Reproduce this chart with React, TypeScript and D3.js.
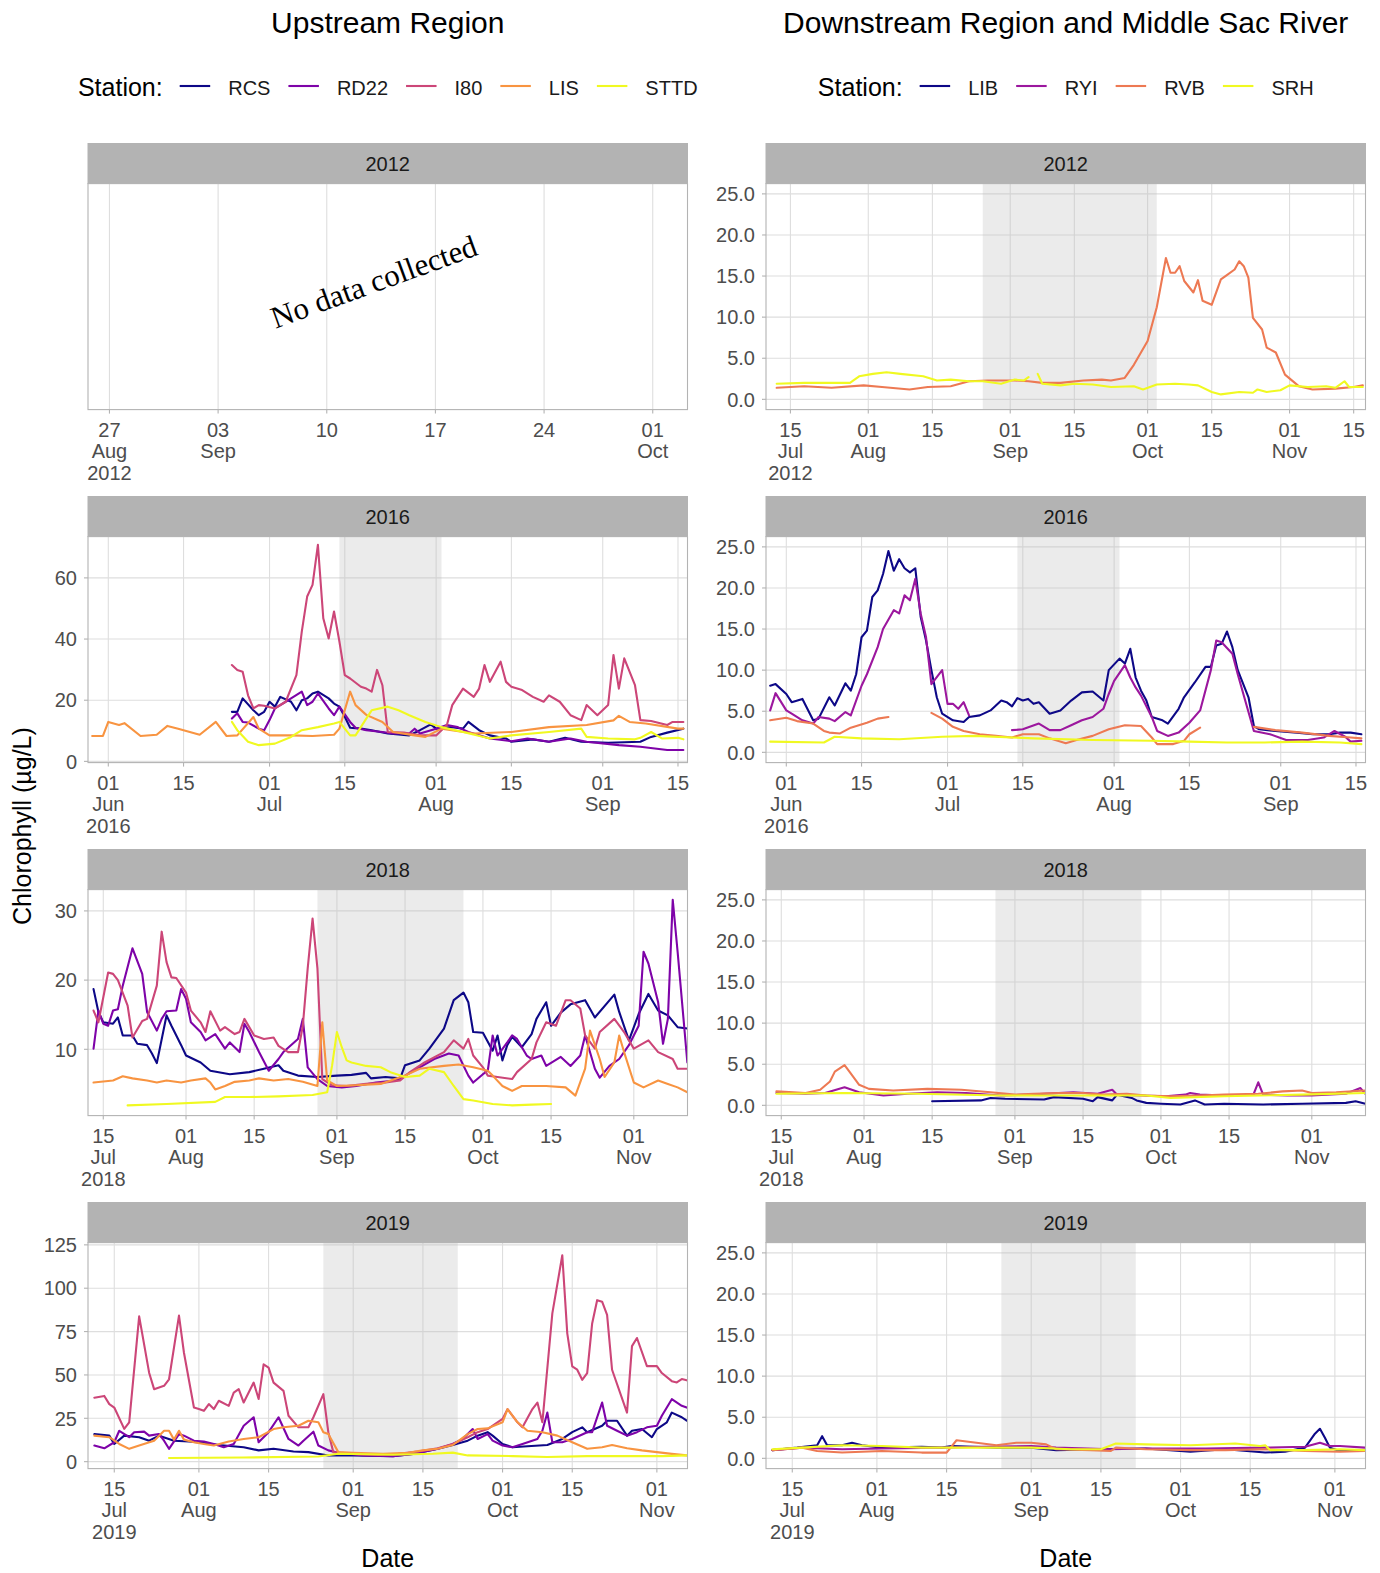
import React from 'react';
import * as d3 from 'd3';

type Obs = [string, number | null];

const FONT = '"Liberation Sans", Arial, Helvetica, sans-serif';
const SERIF = '"Liberation Serif", "Times New Roman", serif';

// ---- stations & palettes (plasma) ----
const UP_STATIONS = ['RCS', 'RD22', 'I80', 'LIS', 'STTD'];
const UP_COLORS = ['#0D0887', '#7E03A8', '#CC4678', '#F89441', '#F0F921'];
const DOWN_STATIONS = ['LIB', 'RYI', 'RVB', 'SRH'];
const DOWN_COLORS = ['#0D0887', '#9C179E', '#ED7953', '#F0F921'];

// ---- x axes: visible window, breaks and flow-pulse windows ----
const XDOM_UP2012 = ['2012-08-25T14:50:00Z', '2012-10-03T05:45:00Z'];
const XDOM_DN2012 = ['2012-07-09T16:00:00Z', '2012-11-17T14:00:00Z'];
const XDOM_2016 = ['2016-05-28T05:20:00Z', '2016-09-16T18:30:00Z'];
const XDOM_2018 = ['2018-07-11T20:40:00Z', '2018-11-12T00:45:00Z'];
const XDOM_2019 = ['2019-07-09T17:20:00Z', '2019-11-07T03:40:00Z'];

const TICKS_UP2012 = ['2012-08-27', '2012-09-03', '2012-09-10', '2012-09-17', '2012-09-24', '2012-10-01'];
const TICKS_DN2012 = ['2012-07-15', '2012-08-01', '2012-08-15', '2012-09-01', '2012-09-15', '2012-10-01', '2012-10-15', '2012-11-01', '2012-11-15'];
const TICKS_2016 = ['2016-06-01', '2016-06-15', '2016-07-01', '2016-07-15', '2016-08-01', '2016-08-15', '2016-09-01', '2016-09-15'];
const TICKS_2018 = ['2018-07-15', '2018-08-01', '2018-08-15', '2018-09-01', '2018-09-15', '2018-10-01', '2018-10-15', '2018-11-01'];
const TICKS_2019 = ['2019-07-15', '2019-08-01', '2019-08-15', '2019-09-01', '2019-09-15', '2019-10-01', '2019-10-15', '2019-11-01'];

const PULSE_2012 = ['2012-08-26', '2012-10-03'];
const PULSE_2016 = ['2016-07-14', '2016-08-02'];
const PULSE_2018 = ['2018-08-28', '2018-09-27'];
const PULSE_2019 = ['2019-08-26', '2019-09-22'];

// ---- y axes ----
const Y_UP2016 = [-0.4, 73.5];
const YT_UP2016 = [0, 20, 40, 60];
const Y_UP2018 = [0.42, 33.08];
const YT_UP2018 = [10, 20, 30];
const Y_UP2019 = [-4.0, 126.3];
const YT_UP2019 = [0, 25, 50, 75, 100, 125];
const Y_DOWN = [-1.25, 26.25];
const YT_DOWN = [0, 5, 10, 15, 20, 25];

// ---- chlorophyll (µg/L), upstream 2016 ----
const UP16_RCS: Obs[] = [
  ['06-24', 16.2], ['06-25', 16.2], ['06-26', 20.6], ['06-28', 16.7], ['06-29', 15.1], ['06-30', 16.2],
  ['07-01', 19.5], ['07-02', 17.9], ['07-03', 21.1], ['07-05', 19.5], ['07-06', 16.7], ['07-07', 20.0],
  ['07-08', 20.6], ['07-09', 22.2], ['07-10', 22.8], ['07-12', 20.6], ['07-13', 18.9], ['07-14', 17.9],
  ['07-15', 14.6], ['07-16', 11.0], ['07-18', 10.7], ['07-20', 10.2], ['07-23', 9.1], ['07-27', 8.5],
  ['07-29', 10.2], ['07-31', 12.1], ['08-01', 10.7], ['08-04', 11.2], ['08-06', 10.7], ['08-07', 12.9],
  ['08-09', 10.2], ['08-11', 8.5], ['08-14', 7.5], ['08-15', 6.4], ['08-19', 7.2], ['08-22', 6.4],
  ['08-25', 7.7], ['08-28', 6.4], ['09-02', 6.1], ['09-08', 6.4], ['09-10', 8.0], ['09-13', 9.4], ['09-16', 10.7],
];
const UP16_RD22: Obs[] = [
  ['06-24', 14.0], ['06-25', 15.7], ['06-26', 12.9], ['06-27', 12.7], ['06-29', 10.7], ['06-30', 10.2],
  ['07-01', 13.5], ['07-02', 17.3], ['07-04', 19.5], ['07-05', 20.6], ['07-07', 22.8], ['07-08', 18.4],
  ['07-09', 19.5], ['07-10', 22.2], ['07-12', 17.3], ['07-13', 15.1], ['07-14', 17.9], ['07-16', 12.9],
  ['07-17', 11.0], ['07-19', 10.2], ['07-22', 9.6], ['07-24', 9.1], ['07-27', 9.1], ['07-28', 10.7],
  ['07-29', 9.1], ['08-01', 10.7], ['08-03', 11.9], ['08-05', 11.2], ['08-07', 9.6], ['08-11', 7.5],
  ['08-15', 6.6], ['08-18', 7.5], ['08-22', 6.4], ['08-26', 7.5], ['08-29', 6.4], ['09-04', 5.3],
  ['09-08', 4.8], ['09-13', 3.7], ['09-16', 3.7],
];
const UP16_I80: Obs[] = [
  ['06-24', 31.5], ['06-25', 29.9], ['06-26', 29.3], ['06-27', 21.6], ['06-28', 17.3], ['06-29', 18.4],
  ['06-30', 18.2], ['07-02', 17.3], ['07-04', 19.5], ['07-06', 28.2], ['07-07', 42.4], ['07-08', 53.9],
  ['07-09', 57.7], ['07-10', 70.8], ['07-11', 46.8], ['07-12', 40.2], ['07-13', 49.0], ['07-14', 39.2],
  ['07-15', 28.2], ['07-16', 27.1], ['07-18', 24.4], ['07-19', 23.8], ['07-20', 22.8], ['07-21', 29.9],
  ['07-22', 24.9], ['07-23', 9.6], ['07-26', 9.4], ['07-29', 8.5], ['08-01', 8.5], ['08-03', 11.9],
  ['08-04', 18.4], ['08-06', 23.8], ['08-08', 21.1], ['08-09', 23.8], ['08-10', 31.5], ['08-11', 26.0],
  ['08-13', 32.6], ['08-14', 26.0], ['08-15', 24.4], ['08-17', 23.3], ['08-19', 21.1], ['08-21', 19.5],
  ['08-22', 21.6], ['08-24', 19.5], ['08-26', 15.1], ['08-28', 13.5], ['08-29', 18.4], ['08-31', 15.1],
  ['09-02', 18.4], ['09-03', 34.8], ['09-04', 23.8], ['09-05', 33.7], ['09-07', 24.9], ['09-08', 13.5],
  ['09-10', 13.2], ['09-13', 11.9], ['09-14', 12.9], ['09-16', 12.9],
];
const UP16_LIS: Obs[] = [
  ['05-29', 8.3], ['05-31', 8.3], ['06-01', 12.9], ['06-03', 11.9], ['06-04', 12.5], ['06-07', 8.3],
  ['06-10', 8.7], ['06-12', 11.6], ['06-14', 10.7], ['06-18', 8.7], ['06-21', 12.9], ['06-23', 8.3],
  ['06-25', 8.5], ['06-28', 14.5], ['06-29', 10.7], ['07-01', 8.5], ['07-05', 8.5], ['07-09', 8.3],
  ['07-13', 8.7], ['07-14', 10.7], ['07-16', 22.8], ['07-17', 18.4], ['07-19', 15.2], ['07-22', 12.9],
  ['07-24', 9.6], ['07-28', 8.5], ['07-30', 8.0], ['08-02', 10.7], ['08-08', 9.1], ['08-15', 9.6],
  ['08-22', 11.2], ['08-29', 11.9], ['09-03', 13.4], ['09-04', 14.9], ['09-06', 12.9], ['09-09', 12.4],
  ['09-15', 10.7], ['09-16', 10.7],
];
const UP16_STTD: Obs[] = [
  ['06-24', 12.9], ['06-25', 10.2], ['06-27', 6.4], ['06-29', 5.3], ['07-02', 5.8], ['07-05', 8.0],
  ['07-07', 10.2], ['07-10', 11.2], ['07-13', 12.4], ['07-14', 12.9], ['07-16', 8.5], ['07-17', 8.5],
  ['07-19', 14.0], ['07-20', 16.7], ['07-23', 17.9], ['07-25', 16.7], ['07-27', 15.1], ['07-30', 12.9],
  ['08-02', 11.2], ['08-06', 9.6], ['08-11', 7.5], ['08-15', 8.5], ['08-22', 9.6], ['08-28', 10.7],
  ['08-29', 8.0], ['09-02', 7.5], ['09-07', 7.2], ['09-08', 7.7], ['09-10', 9.6], ['09-12', 7.5],
  ['09-15', 7.7], ['09-16', 7.2],
];

// ---- upstream 2018 ----
const UP18_RCS: Obs[] = [
  ['07-13', 18.7], ['07-14', 15.4], ['07-15', 13.9], ['07-17', 13.7], ['07-18', 14.6], ['07-19', 12.0],
  ['07-21', 12.0], ['07-22', 10.8], ['07-24', 10.6], ['07-25', 9.4], ['07-26', 8.0], ['07-28', 14.9],
  ['07-29', 13.4], ['07-31', 10.6], ['08-01', 9.1], ['08-04', 8.1], ['08-06', 6.9], ['08-10', 6.4],
  ['08-14', 6.7], ['08-17', 7.2], ['08-20', 7.7], ['08-21', 6.9], ['08-24', 6.2], ['08-28', 6.0],
  ['09-01', 6.2], ['09-04', 6.3], ['09-07', 6.6], ['09-08', 5.8], ['09-11', 6.0], ['09-14', 5.8],
  ['09-15', 7.7], ['09-18', 8.4], ['09-20', 10.1], ['09-23', 13.0], ['09-25', 17.1], ['09-27', 18.2],
  ['09-28', 16.8], ['09-29', 12.5], ['10-01', 12.4], ['10-03', 9.8], ['10-04', 12.0], ['10-05', 8.4],
  ['10-06', 10.6], ['10-07', 11.8], ['10-09', 10.3], ['10-11', 12.2], ['10-12', 14.4], ['10-14', 16.8],
  ['10-15', 13.4], ['10-17', 15.3], ['10-19', 16.5], ['10-22', 17.1], ['10-24', 14.6], ['10-28', 17.9],
  ['10-29', 15.4], ['10-31', 11.3], ['11-02', 15.1], ['11-04', 18.0], ['11-06', 15.6], ['11-08', 14.9],
  ['11-10', 13.2], ['11-12', 13.0],
];
const UP18_RD22: Obs[] = [
  ['07-13', 10.1], ['07-14', 15.6], ['07-15', 13.7], ['07-16', 13.4], ['07-17', 15.6], ['07-18', 15.8],
  ['07-19', 19.2], ['07-21', 24.6], ['07-23', 20.9], ['07-24', 15.4], ['07-26', 12.7], ['07-27', 14.4],
  ['07-28', 15.5], ['07-30', 15.6], ['07-31', 18.7], ['08-01', 17.3], ['08-02', 13.9], ['08-04', 12.5],
  ['08-05', 11.3], ['08-07', 12.2], ['08-09', 10.1], ['08-10', 11.0], ['08-12', 9.6], ['08-13', 13.7],
  ['08-14', 12.5], ['08-16', 9.6], ['08-18', 6.9], ['08-20', 8.6], ['08-21', 9.6], ['08-24', 11.5],
  ['08-25', 14.4], ['08-26', 7.4], ['08-28', 5.7], ['08-30', 4.7], ['09-02', 4.5], ['09-05', 4.7],
  ['09-09', 5.2], ['09-13', 5.5], ['09-15', 6.2], ['09-18', 7.4], ['09-21', 8.6], ['09-24', 9.4],
  ['09-26', 9.1], ['09-28', 6.2], ['09-29', 5.2], ['10-01', 6.4], ['10-02', 6.9], ['10-03', 12.0],
  ['10-04', 9.1], ['10-06', 11.0], ['10-07', 12.0], ['10-08', 11.5], ['10-10', 9.1], ['10-11', 8.6],
  ['10-13', 9.1], ['10-14', 7.6], ['10-17', 8.9], ['10-19', 7.6], ['10-21', 9.1], ['10-22', 12.0],
  ['10-24', 7.2], ['10-25', 5.9], ['10-27', 7.6], ['10-29', 8.6], ['10-31', 10.6], ['11-02', 13.4],
  ['11-03', 24.1], ['11-04', 22.4], ['11-06', 16.8], ['11-07', 10.8], ['11-08', 14.4], ['11-09', 31.6],
  ['11-10', 24.1], ['11-12', 8.1],
];
const UP18_I80: Obs[] = [
  ['07-13', 15.6], ['07-14', 13.9], ['07-16', 21.1], ['07-17', 20.9], ['07-18', 20.0], ['07-20', 16.3],
  ['07-21', 11.7], ['07-23', 14.1], ['07-24', 14.4], ['07-26', 19.2], ['07-27', 27.0], ['07-28', 22.6],
  ['07-29', 20.4], ['07-30', 20.3], ['08-01', 18.2], ['08-02', 15.6], ['08-04', 13.9], ['08-05', 12.5],
  ['08-06', 15.5], ['08-08', 12.7], ['08-09', 13.2], ['08-11', 12.2], ['08-12', 12.5], ['08-13', 14.4],
  ['08-15', 12.0], ['08-17', 11.5], ['08-19', 11.7], ['08-20', 10.5], ['08-22', 9.6], ['08-24', 9.6],
  ['08-25', 13.4], ['08-26', 21.7], ['08-27', 28.9], ['08-28', 21.7], ['08-29', 5.7], ['08-31', 4.8],
  ['09-03', 4.7], ['09-07', 5.0], ['09-11', 5.2], ['09-14', 5.5], ['09-16', 6.7], ['09-19', 8.1],
  ['09-23', 9.6], ['09-25', 11.3], ['09-27', 10.1], ['09-28', 11.5], ['09-29', 9.1], ['10-01', 7.4],
  ['10-02', 6.2], ['10-04', 6.0], ['10-07', 5.7], ['10-08', 6.7], ['10-11', 8.6], ['10-12', 11.0],
  ['10-14', 13.9], ['10-16', 13.4], ['10-18', 17.1], ['10-19', 17.1], ['10-21', 15.9], ['10-22', 12.0],
  ['10-24', 10.1], ['10-25', 12.5], ['10-28', 14.4], ['10-30', 12.5], ['11-01', 10.1], ['11-04', 11.3],
  ['11-06', 9.6], ['11-09', 8.6], ['11-10', 7.2], ['11-12', 7.2],
];
const UP18_LIS: Obs[] = [
  ['07-13', 5.2], ['07-17', 5.5], ['07-19', 6.1], ['07-21', 5.8], ['07-24', 5.5], ['07-26', 5.2],
  ['07-28', 5.5], ['07-31', 5.2], ['08-02', 5.5], ['08-05', 5.8], ['08-06', 5.2], ['08-07', 4.2],
  ['08-09', 4.7], ['08-11', 5.3], ['08-14', 5.5], ['08-16', 5.8], ['08-19', 5.5], ['08-22', 5.7],
  ['08-25', 5.3], ['08-28', 4.7], ['08-29', 13.9], ['08-30', 5.5], ['09-01', 4.7], ['09-05', 4.8],
  ['09-10', 5.0], ['09-15', 6.2], ['09-18', 7.2], ['09-23', 7.6], ['09-26', 7.8], ['09-29', 7.4],
  ['10-02', 6.9], ['10-03', 6.2], ['10-05', 4.7], ['10-07', 4.0], ['10-09', 4.7], ['10-11', 4.7],
  ['10-14', 4.7], ['10-18', 4.5], ['10-20', 3.3], ['10-22', 7.2], ['10-23', 12.7], ['10-25', 8.6],
  ['10-26', 6.0], ['10-28', 8.1], ['10-29', 12.0], ['10-30', 9.6], ['11-01', 5.2], ['11-03', 4.5],
  ['11-06', 5.5], ['11-08', 5.0], ['11-10', 4.5], ['11-12', 3.8],
];
const UP18_STTD: Obs[] = [
  ['07-20', 1.9], ['07-28', 2.1], ['08-07', 2.4], ['08-09', 3.1], ['08-14', 3.1], ['08-20', 3.2],
  ['08-27', 3.4], ['08-30', 3.8], ['08-31', 7.6], ['09-01', 12.5], ['09-02', 10.3], ['09-03', 8.4],
  ['09-04', 8.1], ['09-07', 7.6], ['09-10', 7.4], ['09-12', 6.7], ['09-15', 6.0], ['09-18', 6.2],
  ['09-20', 7.2], ['09-23', 6.7], ['09-25', 4.7], ['09-27', 2.8], ['09-29', 2.6], ['10-03', 2.1],
  ['10-07', 1.9], ['10-11', 2.0], ['10-15', 2.1],
];

// ---- upstream 2019 ----
const UP19_RCS: Obs[] = [
  ['07-11', 15.9], ['07-14', 15.0], ['07-15', 10.2], ['07-17', 15.0], ['07-20', 14.1], ['07-22', 12.1],
  ['07-24', 15.0], ['07-27', 12.1], ['07-30', 11.6], ['08-02', 10.8], ['08-05', 9.6], ['08-10', 8.3],
  ['08-13', 6.5], ['08-16', 7.4], ['08-20', 5.9], ['08-23', 5.5], ['08-27', 3.6], ['09-01', 3.6],
  ['09-09', 3.2], ['09-13', 4.5], ['09-18', 7.4], ['09-21', 9.6], ['09-24', 12.1], ['09-26', 15.0],
  ['09-28', 17.0], ['09-29', 15.0], ['10-01', 10.2], ['10-03', 8.3], ['10-06', 8.9], ['10-10', 9.6],
  ['10-13', 13.1], ['10-15', 17.0], ['10-17', 19.8], ['10-18', 17.0], ['10-21', 20.7], ['10-22', 23.6],
  ['10-24', 23.6], ['10-26', 15.0], ['10-27', 17.8], ['10-29', 18.8], ['10-31', 14.1], ['11-01', 18.8],
  ['11-03', 22.7], ['11-04', 28.3], ['11-06', 25.6], ['11-07', 23.6],
];
const UP19_RD22: Obs[] = [
  ['07-11', 9.3], ['07-13', 7.7], ['07-15', 11.2], ['07-16', 17.8], ['07-18', 14.1], ['07-19', 17.0],
  ['07-21', 17.3], ['07-22', 15.0], ['07-24', 15.9], ['07-25', 12.1], ['07-26', 7.4], ['07-28', 15.9],
  ['07-29', 15.0], ['07-31', 12.1], ['08-02', 11.6], ['08-04', 10.2], ['08-06', 8.3], ['08-08', 10.2],
  ['08-10', 20.7], ['08-12', 25.6], ['08-13', 11.2], ['08-15', 17.0], ['08-17', 25.6], ['08-19', 13.1],
  ['08-21', 9.3], ['08-22', 12.1], ['08-24', 17.3], ['08-25', 9.3], ['08-27', 6.5], ['08-29', 5.1],
  ['09-03', 3.6], ['09-09', 3.2], ['09-13', 4.5], ['09-18', 7.4], ['09-21', 10.2], ['09-23', 13.1],
  ['09-25', 18.8], ['09-26', 13.1], ['09-28', 15.9], ['09-29', 12.1], ['10-01', 9.3], ['10-03', 8.3],
  ['10-05', 10.2], ['10-08', 13.1], ['10-09', 17.8], ['10-10', 28.3], ['10-11', 11.2], ['10-13', 11.2],
  ['10-15', 13.1], ['10-18', 17.0], ['10-19', 17.0], ['10-21', 34.1], ['10-22', 20.7], ['10-24', 17.8],
  ['10-26', 15.0], ['10-28', 17.0], ['10-30', 19.8], ['11-01', 20.7], ['11-02', 26.5], ['11-04', 36.0],
  ['11-06', 32.2], ['11-07', 31.2],
];
const UP19_I80: Obs[] = [
  ['07-11', 36.9], ['07-13', 37.9], ['07-14', 33.2], ['07-15', 31.2], ['07-17', 18.9], ['07-18', 22.7],
  ['07-20', 83.8], ['07-22', 51.3], ['07-23', 41.8], ['07-25', 43.7], ['07-26', 47.5], ['07-28', 84.2],
  ['07-29', 62.8], ['07-31', 31.2], ['08-01', 30.3], ['08-02', 29.3], ['08-03', 33.2], ['08-04', 30.3],
  ['08-05', 35.1], ['08-07', 32.2], ['08-08', 39.8], ['08-09', 41.8], ['08-10', 34.1], ['08-12', 45.6],
  ['08-13', 36.1], ['08-14', 56.1], ['08-15', 54.2], ['08-16', 45.6], ['08-18', 40.8], ['08-19', 26.5],
  ['08-21', 19.8], ['08-23', 19.8], ['08-24', 25.6], ['08-26', 38.9], ['08-27', 17.0], ['08-28', 5.5],
  ['09-01', 4.5], ['09-06', 3.9], ['09-10', 4.5], ['09-14', 5.9], ['09-18', 7.7], ['09-21', 10.2],
  ['09-24', 14.1], ['09-26', 17.0], ['09-28', 18.8], ['10-01', 24.6], ['10-02', 30.3], ['10-04', 22.7],
  ['10-05', 19.8], ['10-07', 30.3], ['10-08', 34.1], ['10-09', 22.7], ['10-11', 85.5], ['10-13', 119.0],
  ['10-14', 74.0], ['10-15', 54.9], ['10-16', 53.0], ['10-17', 47.2], ['10-18', 51.1], ['10-19', 79.7],
  ['10-20', 93.1], ['10-21', 92.2], ['10-22', 84.6], ['10-23', 53.0], ['10-26', 28.3], ['10-27', 66.6],
  ['10-28', 71.3], ['10-30', 55.1], ['11-01', 55.1], ['11-02', 51.1], ['11-04', 46.4], ['11-05', 45.7],
  ['11-06', 47.6], ['11-07', 46.9],
];
const UP19_LIS: Obs[] = [
  ['07-11', 15.0], ['07-14', 14.1], ['07-16', 10.2], ['07-18', 7.4], ['07-20', 9.3], ['07-23', 12.1],
  ['07-25', 17.8], ['07-26', 17.8], ['07-27', 12.7], ['07-28', 17.8], ['07-29', 12.7], ['07-31', 11.2],
  ['08-02', 10.2], ['08-04', 9.3], ['08-07', 11.6], ['08-10', 13.1], ['08-13', 14.1], ['08-16', 18.8],
  ['08-18', 19.8], ['08-21', 20.7], ['08-23', 23.6], ['08-25', 22.7], ['08-26', 17.0], ['08-27', 15.9],
  ['08-29', 5.5], ['09-01', 5.1], ['09-07', 4.5], ['09-12', 5.1], ['09-15', 6.5], ['09-18', 7.4],
  ['09-21', 9.6], ['09-24', 15.9], ['09-26', 18.8], ['09-28', 19.2], ['10-01', 22.7], ['10-02', 30.3],
  ['10-04', 22.7], ['10-06', 17.8], ['10-09', 17.0], ['10-12', 15.0], ['10-15', 11.2], ['10-18', 7.4],
  ['10-21', 8.3], ['10-23', 9.6], ['10-26', 7.7], ['10-29', 6.5], ['11-01', 5.5], ['11-04', 4.5],
  ['11-07', 3.6],
];
const UP19_STTD: Obs[] = [
  ['07-26', 2.1], ['08-10', 2.4], ['08-25', 3.0], ['08-29', 4.6], ['09-09', 4.0], ['09-17', 4.6],
  ['09-21', 5.2], ['09-24', 3.6], ['10-03', 3.2], ['10-10', 2.7], ['10-18', 3.2], ['10-26', 3.2],
  ['11-02', 3.2], ['11-07', 3.6],
];

// ---- downstream 2012 ----
const DN12_RVB: Obs[] = [
  ['07-12', 1.4], ['07-18', 1.6], ['07-24', 1.4], ['07-31', 1.7], ['08-04', 1.5], ['08-10', 1.2],
  ['08-14', 1.5], ['08-19', 1.6], ['08-23', 2.2], ['08-27', 2.3], ['09-02', 2.3], ['09-05', 2.2],
  ['09-08', 2.0], ['09-12', 2.0], ['09-17', 2.3], ['09-21', 2.4], ['09-23', 2.3], ['09-26', 2.6],
  ['09-28', 4.2], ['10-01', 7.1], ['10-03', 11.2], ['10-05', 17.2], ['10-06', 15.4], ['10-07', 15.4],
  ['10-08', 16.2], ['10-09', 14.4], ['10-11', 13.0], ['10-12', 14.5], ['10-13', 12.0], ['10-15', 11.5],
  ['10-17', 14.6], ['10-18', 15.0], ['10-20', 15.8], ['10-21', 16.8], ['10-22', 16.2], ['10-23', 14.8],
  ['10-24', 9.9], ['10-26', 8.5], ['10-27', 6.3], ['10-29', 5.7], ['10-31', 3.0], ['11-03', 1.6],
  ['11-06', 1.2], ['11-11', 1.3], ['11-15', 1.5], ['11-17', 1.7],
];
const DN12_SRH: Obs[] = [
  ['07-12', 1.9], ['07-18', 2.0], ['07-28', 2.0], ['07-30', 2.8], ['08-02', 3.1], ['08-05', 3.3],
  ['08-08', 3.1], ['08-13', 2.8], ['08-16', 2.3], ['08-19', 2.4], ['08-23', 2.2], ['08-26', 2.2],
  ['08-30', 1.9], ['09-02', 2.4], ['09-04', 2.3], ['09-05', 2.7], ['09-06', null], ['09-07', 3.1],
  ['09-08', 1.9], ['09-12', 1.7], ['09-15', 1.9], ['09-19', 1.8], ['09-23', 1.5], ['09-28', 1.6],
  ['09-30', 1.2], ['10-03', 1.8], ['10-07', 1.9], ['10-10', 1.8], ['10-12', 1.7], ['10-15', 0.9],
  ['10-17', 0.6], ['10-21', 0.9], ['10-24', 0.8], ['10-25', 1.2], ['10-27', 0.9], ['10-30', 1.1],
  ['11-01', 1.7], ['11-05', 1.5], ['11-09', 1.6], ['11-11', 1.4], ['11-13', 2.2], ['11-14', 1.5],
  ['11-17', 1.5],
];

// ---- downstream 2016 ----
const DN16_LIB: Obs[] = [
  ['05-29', 8.1], ['05-30', 8.3], ['06-01', 7.1], ['06-02', 6.1], ['06-04', 6.5], ['06-06', 3.9],
  ['06-07', 4.1], ['06-09', 6.7], ['06-10', 5.7], ['06-12', 8.4], ['06-13', 7.5], ['06-14', 9.5],
  ['06-15', 14.0], ['06-16', 14.8], ['06-17', 18.9], ['06-18', 19.7], ['06-19', 21.7], ['06-20', 24.5],
  ['06-21', 22.1], ['06-22', 23.5], ['06-23', 22.4], ['06-24', 21.9], ['06-25', 22.4], ['06-26', 16.5],
  ['06-27', 13.6], ['06-28', 10.0], ['06-29', 6.7], ['06-30', 4.7], ['07-02', 3.9], ['07-04', 3.7],
  ['07-05', 4.3], ['07-07', 4.5], ['07-09', 5.1], ['07-11', 6.3], ['07-12', 6.1], ['07-13', 5.6],
  ['07-14', 6.6], ['07-15', 6.3], ['07-16', 6.5], ['07-17', 5.9], ['07-18', 6.1], ['07-20', 4.7],
  ['07-22', 5.1], ['07-24', 6.3], ['07-26', 7.3], ['07-28', 7.4], ['07-30', 6.3], ['07-31', 10.0],
  ['08-02', 11.4], ['08-03', 10.8], ['08-04', 12.6], ['08-05', 9.1], ['08-06', 7.5], ['08-07', 6.3],
  ['08-08', 4.3], ['08-10', 3.9], ['08-11', 3.5], ['08-13', 5.3], ['08-14', 6.7], ['08-16', 8.5],
  ['08-18', 10.4], ['08-19', 10.4], ['08-20', 13.0], ['08-21', 13.2], ['08-22', 14.7], ['08-23', 12.8],
  ['08-24', 10.0], ['08-26', 6.7], ['08-27', 3.2], ['08-28', 2.8], ['08-31', 2.6], ['09-04', 2.4],
  ['09-07', 2.2], ['09-10', 2.2], ['09-12', 2.4], ['09-14', 2.4], ['09-16', 2.2],
];
const DN16_RYI: Obs[] = [
  ['05-29', 5.1], ['05-30', 7.2], ['06-01', 5.1], ['06-02', 4.7], ['06-04', 3.9], ['06-06', 3.5],
  ['06-07', 4.3], ['06-09', 4.1], ['06-10', 3.8], ['06-12', 4.9], ['06-13', 4.5], ['06-15', 8.1],
  ['06-16', 9.5], ['06-18', 12.8], ['06-19', 15.0], ['06-21', 17.3], ['06-22', 16.9], ['06-23', 19.1],
  ['06-24', 18.5], ['06-25', 21.1], ['06-26', 16.9], ['06-27', 14.0], ['06-28', 8.3], ['06-30', 10.0],
  ['07-01', 5.9], ['07-02', 5.9], ['07-03', 5.3], ['07-04', 6.1], ['07-05', 4.5], ['07-09', null],
  ['07-13', 2.7], ['07-15', 2.8], ['07-18', 3.5], ['07-20', 2.7], ['07-22', 2.7], ['07-24', 3.3],
  ['07-26', 3.9], ['07-28', 4.3], ['07-30', 5.3], ['07-31', 7.1], ['08-01', 8.7], ['08-03', 10.6],
  ['08-04', 9.1], ['08-05', 7.9], ['08-06', 6.9], ['08-08', 4.3], ['08-09', 2.6], ['08-11', 2.0],
  ['08-13', 2.4], ['08-15', 3.6], ['08-17', 5.1], ['08-19', 10.0], ['08-20', 13.6], ['08-21', 13.4],
  ['08-23', 12.0], ['08-24', 9.5], ['08-27', 2.6], ['08-30', 2.2], ['09-02', 1.5], ['09-06', 1.5],
  ['09-09', 1.8], ['09-11', 2.6], ['09-13', 1.9], ['09-14', 1.3], ['09-16', 1.4],
];
const DN16_RVB: Obs[] = [
  ['05-29', 3.9], ['06-01', 4.2], ['06-03', 3.8], ['06-06', 3.5], ['06-08', 2.6], ['06-09', 2.4],
  ['06-11', 2.3], ['06-13', 3.0], ['06-16', 3.6], ['06-18', 4.1], ['06-20', 4.3], ['06-24', null],
  ['06-28', 4.8], ['06-30', 4.1], ['07-02', 3.1], ['07-04', 2.6], ['07-07', 2.2], ['07-10', 2.0],
  ['07-13', 1.8], ['07-15', 2.2], ['07-18', 2.2], ['07-20', 1.7], ['07-23', 1.1], ['07-25', 1.5],
  ['07-28', 2.0], ['07-31', 2.8], ['08-03', 3.3], ['08-06', 3.2], ['08-08', 1.8], ['08-09', 1.0],
  ['08-12', 1.0], ['08-14', 1.4], ['08-15', 2.2], ['08-17', 3.0], ['08-22', null], ['08-27', 3.1],
  ['08-31', 2.7], ['09-05', 2.4], ['09-10', 2.0], ['09-14', 1.8], ['09-16', 1.7],
];
const DN16_SRH: Obs[] = [
  ['05-29', 1.3], ['06-08', 1.2], ['06-10', 1.9], ['06-15', 1.7], ['06-22', 1.6], ['06-30', 1.9],
  ['07-06', 2.0], ['07-17', 1.7], ['07-28', 1.5], ['08-08', 1.4], ['08-15', 1.3], ['08-22', 1.2],
  ['08-29', 1.2], ['09-05', 1.3], ['09-12', 1.2], ['09-16', 1.0],
];

// ---- downstream 2018 ----
const DN18_LIB: Obs[] = [
  ['08-15', 0.5], ['08-25', 0.6], ['08-27', 0.9], ['08-30', 0.8], ['09-07', 0.7], ['09-09', 1.0],
  ['09-15', 0.8], ['09-17', 0.5], ['09-18', 1.0], ['09-21', 0.6], ['09-22', 1.3], ['09-25', 0.9],
  ['09-26', 0.6], ['09-28', 0.3], ['10-01', 0.2], ['10-05', 0.1], ['10-08', 0.6], ['10-10', 0.1],
  ['10-14', 0.2], ['10-22', 0.1], ['10-30', 0.2], ['11-08', 0.3], ['11-10', 0.5], ['11-12', 0.2],
];
const DN18_RYI: Obs[] = [
  ['07-14', 1.5], ['07-20', 1.4], ['07-24', 1.5], ['07-28', 2.2], ['07-31', 1.6], ['08-05', 1.2],
  ['08-10', 1.4], ['08-16', 1.6], ['08-22', 1.5], ['08-29', 1.2], ['09-04', 1.3], ['09-10', 1.5],
  ['09-13', 1.6], ['09-18', 1.4], ['09-21', 1.9], ['09-22', 1.3], ['09-27', 1.2], ['10-02', 1.1],
  ['10-06', 1.3], ['10-07', 1.5], ['10-09', 1.3], ['10-14', 1.2], ['10-20', 1.3], ['10-21', 2.8],
  ['10-22', 1.3], ['10-27', 1.2], ['11-01', 1.2], ['11-08', 1.4], ['11-11', 2.1], ['11-12', 1.4],
];
const DN18_RVB: Obs[] = [
  ['07-14', 1.7], ['07-20', 1.5], ['07-23', 1.9], ['07-25', 2.9], ['07-26', 4.1], ['07-28', 4.9],
  ['07-29', 4.1], ['07-31', 2.5], ['08-02', 2.0], ['08-07', 1.8], ['08-14', 2.0], ['08-21', 1.9],
  ['08-27', 1.6], ['09-01', 1.3], ['09-05', 1.4], ['09-10', 1.5], ['09-15', 1.5], ['09-19', 1.3],
  ['09-24', 1.4], ['09-28', 1.2], ['10-03', 1.1], ['10-09', 1.2], ['10-14', 1.3], ['10-21', 1.4],
  ['10-26', 1.7], ['10-30', 1.8], ['11-01', 1.5], ['11-06', 1.6], ['11-12', 1.8],
];
const DN18_SRH: Obs[] = [
  ['07-14', 1.4], ['07-28', 1.5], ['08-12', 1.4], ['08-29', 1.2], ['09-13', 1.2], ['09-28', 1.2],
  ['10-03', 0.9], ['10-14', 1.1], ['10-30', 1.3], ['11-12', 1.5],
];

// ---- downstream 2019 ----
const DN19_LIB: Obs[] = [
  ['07-11', 1.0], ['07-16', 1.3], ['07-20', 1.6], ['07-21', 2.7], ['07-22', 1.6], ['07-25', 1.6],
  ['07-27', 1.9], ['07-29', 1.6], ['08-02', 1.3], ['08-10', 1.4], ['08-14', 1.3], ['08-16', 1.5],
  ['08-25', 1.3], ['09-01', 1.3], ['09-06', 1.0], ['09-15', 1.1], ['09-24', 1.2], ['10-03', 0.8],
  ['10-10', 1.1], ['10-18', 0.7], ['10-22', 0.8], ['10-26', 1.3], ['10-28', 3.0], ['10-29', 3.6],
  ['10-30', 2.5], ['10-31', 1.3], ['11-02', 0.9], ['11-07', 0.9],
];
const DN19_RYI: Obs[] = [
  ['07-11', 1.0], ['07-17', 1.3], ['07-25', 1.1], ['08-02', 1.2], ['08-14', 1.3], ['08-22', 1.4],
  ['09-01', 1.5], ['09-06', 1.3], ['09-17', 1.1], ['09-24', 1.2], ['10-06', 1.2], ['10-18', 1.3],
  ['10-26', 1.4], ['10-29', 1.9], ['10-31', 1.5], ['11-02', 1.5], ['11-07', 1.3],
];
const DN19_RVB: Obs[] = [
  ['07-11', 1.0], ['07-17', 1.3], ['07-20', 0.9], ['07-25', 0.7], ['08-02', 0.9], ['08-10', 0.7],
  ['08-15', 0.7], ['08-17', 2.2], ['08-21', 1.9], ['08-25', 1.6], ['08-29', 1.9], ['09-01', 1.9],
  ['09-04', 1.7], ['09-06', 1.1], ['09-13', 1.0], ['09-17', 0.9], ['09-18', 1.3], ['09-24', 1.1],
  ['10-03', 1.0], ['10-10', 1.0], ['10-18', 1.1], ['10-26', 0.9], ['11-02', 0.8], ['11-07', 0.9],
];
const DN19_SRH: Obs[] = [
  ['07-11', 1.1], ['07-17', 1.3], ['07-25', 1.6], ['08-02', 1.5], ['08-10', 1.3], ['08-25', 1.3],
  ['09-01', 1.3], ['09-09', 1.1], ['09-15', 1.1], ['09-18', 1.8], ['09-24', 1.7], ['10-03', 1.6],
  ['10-12', 1.8], ['10-17', 1.5], ['10-18', 1.6], ['10-19', 1.0], ['10-26', 1.0], ['11-02', 1.1],
  ['11-07', 1.0],
];

// ---- layout ----
const W = 1380;
const H = 1573;
const COL_X = [88, 766];
const PANEL_W = 599.5;
const ROW_Y0 = 143.5;
const ROW_STEP = 353.0;
const STRIP_H = 40.1;
const PANEL_H = 226;
const LINE_W = 2.1;

interface PanelCfg {
  col: number;
  row: number;
  year: string;
  xDomain: string[];
  ticks: string[];
  pulse: string[] | null;
  yDomain: number[] | null;
  yTicks: number[];
  yFmt: string;
  series: Obs[][];
  colors: string[];
  note?: string;
}

const PANELS: PanelCfg[] = [
  { col: 0, row: 0, year: '2012', xDomain: XDOM_UP2012, ticks: TICKS_UP2012, pulse: null, yDomain: null, yTicks: [], yFmt: 'd', series: [], colors: UP_COLORS, note: 'No data collected' },
  { col: 0, row: 1, year: '2016', xDomain: XDOM_2016, ticks: TICKS_2016, pulse: PULSE_2016, yDomain: Y_UP2016, yTicks: YT_UP2016, yFmt: 'd', series: [UP16_RCS, UP16_RD22, UP16_I80, UP16_LIS, UP16_STTD], colors: UP_COLORS },
  { col: 0, row: 2, year: '2018', xDomain: XDOM_2018, ticks: TICKS_2018, pulse: PULSE_2018, yDomain: Y_UP2018, yTicks: YT_UP2018, yFmt: 'd', series: [UP18_RCS, UP18_RD22, UP18_I80, UP18_LIS, UP18_STTD], colors: UP_COLORS },
  { col: 0, row: 3, year: '2019', xDomain: XDOM_2019, ticks: TICKS_2019, pulse: PULSE_2019, yDomain: Y_UP2019, yTicks: YT_UP2019, yFmt: 'd', series: [UP19_RCS, UP19_RD22, UP19_I80, UP19_LIS, UP19_STTD], colors: UP_COLORS },
  { col: 1, row: 0, year: '2012', xDomain: XDOM_DN2012, ticks: TICKS_DN2012, pulse: PULSE_2012, yDomain: Y_DOWN, yTicks: YT_DOWN, yFmt: '.1f', series: [[], [], DN12_RVB, DN12_SRH], colors: DOWN_COLORS },
  { col: 1, row: 1, year: '2016', xDomain: XDOM_2016, ticks: TICKS_2016, pulse: PULSE_2016, yDomain: Y_DOWN, yTicks: YT_DOWN, yFmt: '.1f', series: [DN16_LIB, DN16_RYI, DN16_RVB, DN16_SRH], colors: DOWN_COLORS },
  { col: 1, row: 2, year: '2018', xDomain: XDOM_2018, ticks: TICKS_2018, pulse: PULSE_2018, yDomain: Y_DOWN, yTicks: YT_DOWN, yFmt: '.1f', series: [DN18_LIB, DN18_RYI, DN18_RVB, DN18_SRH], colors: DOWN_COLORS },
  { col: 1, row: 3, year: '2019', xDomain: XDOM_2019, ticks: TICKS_2019, pulse: PULSE_2019, yDomain: Y_DOWN, yTicks: YT_DOWN, yFmt: '.1f', series: [DN19_LIB, DN19_RYI, DN19_RVB, DN19_SRH], colors: DOWN_COLORS },
];

const GRID = '#DEDEDE';
const BORDER = '#B3B3B3';
const AXIS_TEXT = '#4D4D4D';

const utc = (s: string) => new Date(s.length === 10 ? `${s}T00:00:00Z` : s);

// day / month / year stacked labels, repeating the month or year only when it changes
function shortDateLabels(ticks: Date[]): string[][] {
  const fd = d3.utcFormat('%d');
  const fb = d3.utcFormat('%b');
  const fy = d3.utcFormat('%Y');
  return ticks.map((t, i) => {
    const prev = i > 0 ? ticks[i - 1] : null;
    const lines = [fd(t)];
    if (!prev || prev.getUTCMonth() !== t.getUTCMonth() || prev.getUTCFullYear() !== t.getUTCFullYear()) lines.push(fb(t));
    if (!prev || prev.getUTCFullYear() !== t.getUTCFullYear()) lines.push(fy(t));
    return lines;
  });
}

let measureCtx: CanvasRenderingContext2D | null = null;
function textWidth(s: string, size: number): number {
  if (!measureCtx) measureCtx = document.createElement('canvas').getContext('2d');
  if (!measureCtx) return s.length * size * 0.55;
  measureCtx.font = `${size}px "Liberation Sans", Arial, sans-serif`;
  return measureCtx.measureText(s).width;
}

function Panel({ cfg, idx }: { cfg: PanelCfg; idx: number }) {
  const x0 = COL_X[cfg.col];
  const stripTop = ROW_Y0 + ROW_STEP * cfg.row;
  const top = stripTop + STRIP_H;
  const bottom = top + PANEL_H;
  const x = d3.scaleUtc().domain(cfg.xDomain.map(utc)).range([x0, x0 + PANEL_W]);
  const y = cfg.yDomain ? d3.scaleLinear().domain(cfg.yDomain).range([bottom, top]) : null;
  const tickDates = cfg.ticks.map(utc);
  const tickLabels = shortDateLabels(tickDates);
  const fmt = d3.format(cfg.yFmt);
  const clipId = `clip-${idx}`;

  const line = y
    ? d3
        .line<[Date, number | null]>()
        .defined((d) => d[1] !== null)
        .x((d) => x(d[0]))
        .y((d) => y(d[1] as number))
    : null;

  return (
    <g>
      <defs>
        <clipPath id={clipId}>
          <rect x={x0} y={top} width={PANEL_W} height={PANEL_H} />
        </clipPath>
      </defs>
      {/* strip */}
      <rect x={x0} y={stripTop} width={PANEL_W} height={STRIP_H} fill="#B3B3B3" stroke="#B3B3B3" strokeWidth={1} />
      <text x={x0 + PANEL_W / 2} y={stripTop + STRIP_H / 2 + 7} textAnchor="middle" fontSize={20} fill="#1A1A1A">
        {cfg.year}
      </text>
      {/* panel background */}
      <rect x={x0} y={top} width={PANEL_W} height={PANEL_H} fill="#fff" />
      {/* grid */}
      {y &&
        cfg.yTicks.map((t) => (
          <line key={`h${t}`} x1={x0} x2={x0 + PANEL_W} y1={y(t)} y2={y(t)} stroke={GRID} strokeWidth={1.1} />
        ))}
      {tickDates.map((t, i) => (
        <line key={`v${i}`} x1={x(t)} x2={x(t)} y1={top} y2={bottom} stroke={GRID} strokeWidth={1.1} />
      ))}
      {/* flow pulse window */}
      {cfg.pulse && (
        <rect
          x={x(utc(cfg.pulse[0]))}
          y={top}
          width={x(utc(cfg.pulse[1])) - x(utc(cfg.pulse[0]))}
          height={PANEL_H}
          fill="#BEBEBE"
          fillOpacity={0.3}
          clipPath={`url(#${clipId})`}
        />
      )}
      {/* series */}
      <g clipPath={`url(#${clipId})`}>
        {line &&
          cfg.series.map((s, i) => {
            if (!s.length) return null;
            const pts: [Date, number | null][] = s.map(([md, v]) => [utc(`${cfg.year}-${md}`), v]);
            return (
              <path
                key={i}
                d={line(pts) || ''}
                fill="none"
                stroke={cfg.colors[i]}
                strokeWidth={LINE_W}
                strokeLinejoin="round"
                strokeLinecap="round"
              />
            );
          })}
      </g>
      {cfg.note && (
        <text
          transform={`translate(${x0 + 289.5},${top + 108}) rotate(-20)`}
          textAnchor="middle"
          fontFamily={SERIF}
          fontSize={31}
          fill="#000"
        >
          {cfg.note}
        </text>
      )}
      {/* border */}
      <rect x={x0} y={top} width={PANEL_W} height={PANEL_H} fill="none" stroke={BORDER} strokeWidth={1.1} />
      {/* y axis */}
      {y &&
        cfg.yTicks.map((t) => (
          <g key={`yt${t}`}>
            <line x1={x0 - 4} x2={x0} y1={y(t)} y2={y(t)} stroke={BORDER} strokeWidth={1.1} />
            <text x={x0 - 11} y={y(t)} dy="0.36em" textAnchor="end" fontSize={20} fill={AXIS_TEXT}>
              {fmt(t)}
            </text>
          </g>
        ))}
      {/* x axis */}
      {tickDates.map((t, i) => (
        <g key={`xt${i}`}>
          <line x1={x(t)} x2={x(t)} y1={bottom} y2={bottom + 4} stroke={BORDER} strokeWidth={1.1} />
          {tickLabels[i].map((s, k) => (
            <text key={k} x={x(t)} y={bottom + 27 + k * 21.5} textAnchor="middle" fontSize={20} fill={AXIS_TEXT}>
              {s}
            </text>
          ))}
        </g>
      ))}
    </g>
  );
}

function Legend({ cx, names, colors }: { cx: number; names: string[]; colors: string[] }) {
  const titleW = textWidth('Station:', 25);
  const KEY = 30.5;
  const GAP_KEY = 18;
  const GAP_ITEM = 18;
  const labelW = names.map((n) => textWidth(n, 20));
  const total = titleW + 17 + names.length * (KEY + GAP_KEY) + d3.sum(labelW) + (names.length - 1) * GAP_ITEM;
  let cur = cx - total / 2;
  const titleX = cur;
  cur += titleW + 17;
  const items = names.map((n, i) => {
    const item = { n, c: colors[i], kx: cur, tx: cur + KEY + GAP_KEY };
    cur += KEY + GAP_KEY + labelW[i] + GAP_ITEM;
    return item;
  });
  return (
    <g>
      <text x={titleX} y={96} fontSize={25} fill="#000">
        Station:
      </text>
      {items.map((it) => (
        <g key={it.n}>
          <line x1={it.kx} x2={it.kx + KEY} y1={86} y2={86} stroke={it.c} strokeWidth={LINE_W} />
          <text x={it.tx} y={95} fontSize={20} fill="#1A1A1A">
            {it.n}
          </text>
        </g>
      ))}
    </g>
  );
}

export default function App() {
  const cxL = COL_X[0] + PANEL_W / 2;
  const cxR = COL_X[1] + PANEL_W / 2;
  const firstTop = ROW_Y0 + STRIP_H;
  const lastBottom = ROW_Y0 + ROW_STEP * 3 + STRIP_H + PANEL_H;
  return (
    <svg
      width={W}
      height={H}
      viewBox={`0 0 ${W} ${H}`}
      style={{ position: 'absolute', left: 0, top: 0, display: 'block' }}
      fontFamily={FONT}
    >
      <rect width={W} height={H} fill="#fff" />
      <text x={cxL} y={33} textAnchor="middle" fontSize={30} fill="#000">
        Upstream Region
      </text>
      <text x={cxR} y={33} textAnchor="middle" fontSize={30} fill="#000">
        Downstream Region and Middle Sac River
      </text>
      <Legend cx={cxL} names={UP_STATIONS} colors={UP_COLORS} />
      <Legend cx={cxR} names={DOWN_STATIONS} colors={DOWN_COLORS} />
      {PANELS.map((p, i) => (
        <Panel key={i} cfg={p} idx={i} />
      ))}
      <text
        transform={`translate(31,${(firstTop + lastBottom) / 2}) rotate(-90)`}
        textAnchor="middle"
        fontSize={25}
        fill="#000"
      >
        Chlorophyll (µg/L)
      </text>
      <text x={cxL} y={1567} textAnchor="middle" fontSize={25} fill="#000">
        Date
      </text>
      <text x={cxR} y={1567} textAnchor="middle" fontSize={25} fill="#000">
        Date
      </text>
    </svg>
  );
}
